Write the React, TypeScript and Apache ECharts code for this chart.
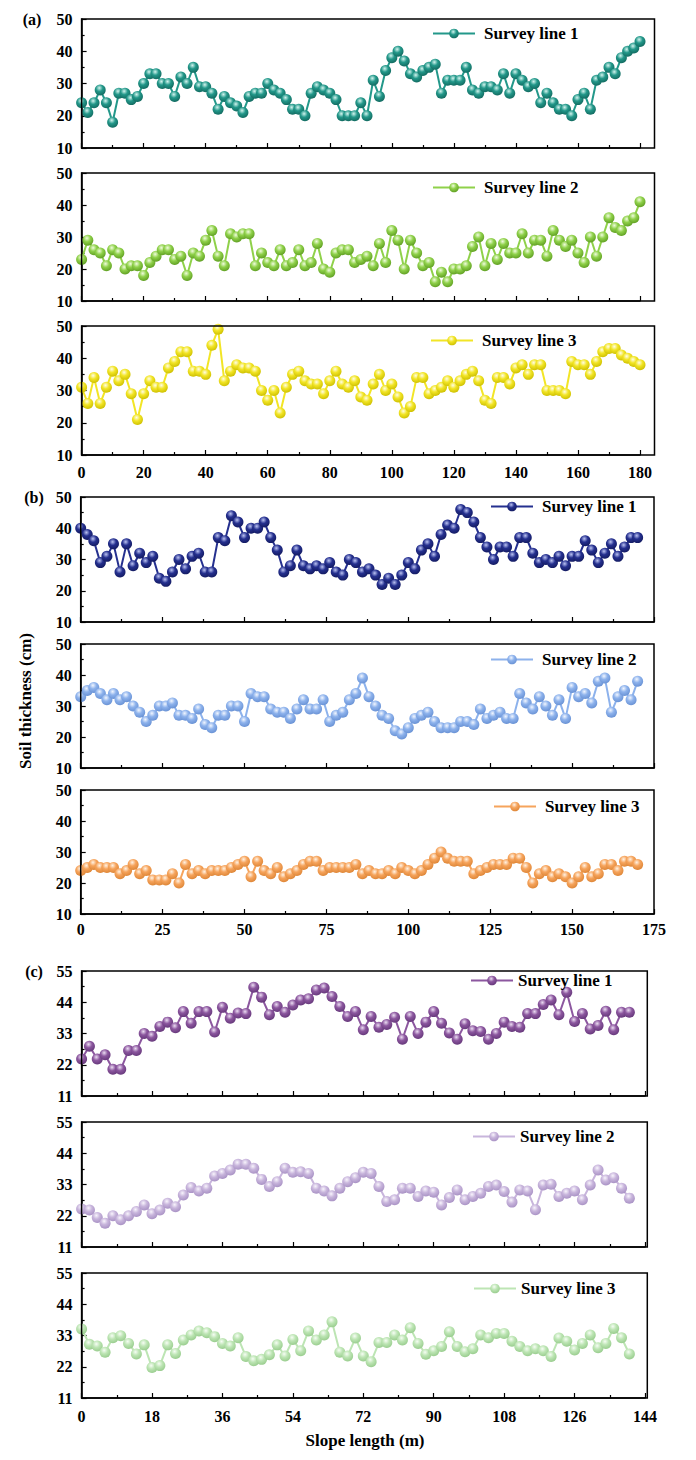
import React, { useEffect, useRef } from "react";
import * as echarts from "echarts";

// Sampling step along the slope (m)
const STEP = 2;

// (a) 0–180 m
const a1 = [24,21,24,28,24,18,27,27,25,26,30,33,33,30,30,26,32,30,35,29,29,27,22,26,24,23,21,26,27,27,30,28,27,25,22,22,20,27,29,28,27,25,20,20,20,24,20,31,26,34,38,40,37,33,32,34,35,36,27,31,31,31,35,28,27,29,29,28,33,27,33,31,29,30,24,27,24,22,22,20,25,27,22,31,32,35,33,38,40,41,43];
const a2 = [23,29,26,25,21,26,25,20,21,21,18,22,24,26,26,23,24,18,25,24,29,32,24,21,31,30,31,31,21,25,22,21,26,21,22,26,21,22,28,20,19,25,26,26,22,23,24,21,28,22,32,29,20,29,25,21,22,16,19,16,20,20,21,27,30,21,28,23,28,25,25,31,25,29,29,24,32,29,27,29,25,22,30,24,30,36,33,32,35,36,41];
const a3 = [31,26,34,26,31,36,33,35,29,21,29,33,31,31,37,39,42,42,36,36,35,44,49,33,36,38,37,37,36,30,27,30,23,31,35,36,33,32,32,29,33,36,32,31,33,28,27,32,35,30,32,28,23,25,34,34,29,30,31,33,31,33,35,36,33,27,26,34,34,32,37,38,35,38,38,30,30,30,29,39,38,38,35,39,42,43,43,41,40,39,38];

// (b) 0–170 m
const b1 = [40,38,36,29,31,35,26,35,28,32,29,31,24,23,26,30,27,31,32,26,26,37,36,44,42,37,40,40,42,37,33,26,28,33,28,27,28,27,29,26,25,30,29,26,27,25,22,24,22,25,29,27,33,35,31,38,41,40,46,45,42,37,34,30,34,34,31,37,37,32,29,30,29,31,28,31,31,36,33,29,32,35,31,34,37,37];
const b2 = [33,35,36,34,32,34,32,33,30,28,25,27,30,30,31,27,27,26,29,24,23,27,27,30,30,25,34,33,33,29,28,28,26,29,32,29,29,32,25,27,28,32,34,39,33,30,27,26,22,21,23,26,27,28,25,23,23,23,25,25,24,29,26,27,28,26,26,34,31,29,33,30,27,32,26,36,33,34,31,38,39,28,33,35,32,38];
const b3 = [24,25,26,25,25,25,23,24,26,23,24,21,21,21,23,20,26,23,24,23,24,24,24,25,26,27,22,27,24,23,25,22,23,24,26,27,27,24,25,25,25,25,26,23,24,23,23,24,23,25,24,23,24,26,28,30,28,27,27,27,23,24,25,26,26,26,28,28,25,20,23,24,22,23,22,20,22,25,22,23,26,26,24,27,27,26];

// (c) 0–140 m
const c1 = [24,28.5,24,25.5,20.4,20.4,27,27,33,32,35.5,37,35,40.7,36.6,40.7,40.7,33.5,42.2,38.4,40.2,40,49.3,45.8,39.6,42.5,40.5,43,44.8,45.2,48.3,49,46,42.5,39,40.7,34.3,39,35.2,36.2,38.7,31,39,33,37,40.7,36.6,33.2,31,36.4,34,33.7,31,33,37,35.5,35.2,40,40,43.2,44.8,39.6,47.5,37.2,40,34.6,35.8,40.8,34.3,40.5,40.5];
const c2 = [24.4,24,21.4,19.4,22,20.6,22,23.5,25.8,22.7,24,26.4,25.2,29.3,31.9,30.7,31.7,36,36.9,38.1,40.1,40.1,38.7,34.8,32.3,34,38.7,37.3,37.5,36.9,31.7,30.7,29,31.7,34,35.4,37.3,36.9,32.3,27,27.6,31.7,31.7,28.8,30.7,30.3,25.8,28.4,31.1,27.6,28.8,29.9,32.3,32.8,30.5,26.8,31.1,30.7,24.1,32.8,33.1,28.8,29.9,30.7,27.6,32.8,38.1,34.6,35.4,31.7,28.2];
const c3 = [35.3,29.9,29.3,27.1,32.2,32.9,30.2,26.5,29.7,21.7,22.4,29.7,26.7,31.4,33.2,34.6,34,32.6,30.2,29.3,32.2,25.6,24.1,24.6,26.2,29.7,25.8,31.6,27.6,34.6,31.4,33.2,37.8,27.1,25.8,32.1,25.8,23.8,30.5,30.5,33.2,31.4,35.7,30.2,26.4,27.6,29.1,34.3,29.1,27.3,28.3,33.2,32.2,33.7,33.7,31,29.1,27.6,28.3,27.6,25.6,32.1,31,27.9,30.2,33.2,28.7,30.2,35.5,32.2,26.5];

const legendNames = ["Survey line 1", "Survey line 2", "Survey line 3"];

const xTicksA = { min: 0, max: 180, interval: 20 };
const xTicksB = { min: 0, max: 175, interval: 25 };
const xTicksC = { min: 0, max: 144, interval: 18 };
const yTicksAB = { min: 10, max: 50, interval: 10 };
const yTicksC = { min: 11, max: 55, interval: 11 };

const FONT = "'Liberation Serif', 'Times New Roman', serif";

type Group = {
  left: number;
  width: number;
  frameRight: number;
  xt: { min: number; max: number; interval: number };
  yt: { min: number; max: number; interval: number };
  xLabelMargin: number;
  textPad: number;
};

const groups: Record<string, Group> = {
  a: { left: 81.6, width: 558.4, frameRight: 654.5, xt: xTicksA, yt: yTicksAB, xLabelMargin: 9, textPad: 4 },
  b: { left: 80.7, width: 573.3, frameRight: 654, xt: xTicksB, yt: yTicksAB, xLabelMargin: 7, textPad: 4 },
  c: { left: 81.6, width: 563.4, frameRight: 647.3, xt: xTicksC, yt: yTicksC, xLabelMargin: 10, textPad: 0 },
};

type Panel = {
  g: string;
  data: number[];
  legend: number;
  top: number;
  height: number;
  showX: boolean;
  lx: number;
  ly: number;
  base: string;
  light: string;
  dark: string;
};

const panels: Panel[] = [
  { g: "a", data: a1, legend: 0, top: 19, height: 129, showX: false, lx: 432, ly: 35, base: "#23988A", light: "#D2F4EE", dark: "#12695F" },
  { g: "a", data: a2, legend: 1, top: 173, height: 128, showX: false, lx: 432, ly: 189, base: "#8FD14A", light: "#F0FCDD", dark: "#5F9E22" },
  { g: "a", data: a3, legend: 2, top: 326, height: 129, showX: true, lx: 430, ly: 342, base: "#F2E526", light: "#FFFDE6", dark: "#CDBF00" },
  { g: "b", data: b1, legend: 0, top: 497, height: 125, showX: false, lx: 490, ly: 508, base: "#25308F", light: "#BAC2F2", dark: "#131A60" },
  { g: "b", data: b2, legend: 1, top: 644, height: 124, showX: false, lx: 490, ly: 661, base: "#8DB2EC", light: "#F1F6FF", dark: "#6891D4" },
  { g: "b", data: b3, legend: 2, top: 790, height: 124, showX: true, lx: 493, ly: 808, base: "#F6A45C", light: "#FFF2E4", dark: "#DD8536" },
  { g: "c", data: c1, legend: 0, top: 971, height: 125, showX: false, lx: 470, ly: 982, base: "#8C579F", light: "#EBDCF2", dark: "#65377A" },
  { g: "c", data: c2, legend: 1, top: 1122, height: 125, showX: false, lx: 472, ly: 1138, base: "#C8B5DC", light: "#F8F4FC", dark: "#A891C4" },
  { g: "c", data: c3, legend: 2, top: 1273, height: 125, showX: true, lx: 473, ly: 1290, base: "#BDE5B4", light: "#F6FDF4", dark: "#98CC8D" },
];

function buildOption() {
  const grid: any[] = [];
  const xAxis: any[] = [];
  const yAxis: any[] = [];
  const series: any[] = [];
  const legend: any[] = [];
  const graphic: any[] = [];

  panels.forEach((p, i) => {
    const g = groups[p.g];
    grid.push({ left: g.left, top: p.top, width: g.width, height: p.height, containLabel: false });
    const tickStyle = { color: "#000", width: 1.2 };
    xAxis.push({
      gridIndex: i,
      type: "value",
      min: g.xt.min,
      max: g.xt.max,
      interval: g.xt.interval,
      axisLine: { show: true, lineStyle: { color: "#000", width: 1.5 } },
      axisTick: { show: true, inside: true, length: 5, lineStyle: tickStyle },
      minorTick: { show: true, splitNumber: 2, length: 3, lineStyle: tickStyle },
      splitLine: { show: false },
      axisLabel: {
        show: p.showX,
        margin: g.xLabelMargin,
        color: "#000",
        fontFamily: FONT,
        fontWeight: "bold",
        fontSize: 16,
      },
    });
    yAxis.push({
      gridIndex: i,
      type: "value",
      min: g.yt.min,
      max: g.yt.max,
      interval: g.yt.interval,
      axisLine: { show: true, lineStyle: { color: "#000", width: 1.5 } },
      axisTick: { show: true, inside: true, length: 5, lineStyle: tickStyle },
      minorTick: { show: true, splitNumber: 2, length: 3, lineStyle: tickStyle },
      splitLine: { show: false },
      axisLabel: {
        margin: 9,
        color: "#000",
        fontFamily: FONT,
        fontWeight: "bold",
        fontSize: 16,
      },
    });
    const sname = `(${p.g}) ${legendNames[p.legend]}`;
    const grad = {
      type: "radial",
      x: 0.42,
      y: 0.32,
      r: 0.7,
      colorStops: [
        { offset: 0, color: p.light },
        { offset: 0.45, color: p.base },
        { offset: 1, color: p.dark },
      ],
    };
    series.push({
      name: sname,
      type: "line",
      xAxisIndex: i,
      yAxisIndex: i,
      data: p.data.map((v, k) => [k * STEP, v]),
      symbol: "circle",
      symbolSize: 11,
      showSymbol: true,
      lineStyle: { color: p.base, width: 2 },
      itemStyle: { color: grad, borderWidth: 0 },
      emphasis: { disabled: true },
    });
    legend.push({
      data: [sname],
      left: p.lx,
      top: p.ly - 10,
      padding: 0,
      itemWidth: 42,
      itemHeight: 12,
      selectedMode: false,
      formatter: () => legendNames[p.legend],
      textStyle: {
        color: "#000",
        fontFamily: FONT,
        fontWeight: "bold",
        fontSize: 17,
        padding: [0, 0, 0, g.textPad],
      },
    });
    graphic.push({
      type: "rect",
      silent: true,
      z: 100,
      shape: { x: g.left, y: p.top, width: g.frameRight - g.left, height: p.height },
      style: { fill: "none", stroke: "#000", lineWidth: 1.5 },
    });
  });

  const textStyle = (text: string, size: number) => ({
    text,
    fill: "#000",
    fontFamily: FONT,
    fontWeight: "bold",
    fontSize: size,
    align: "center",
    verticalAlign: "middle",
  });
  graphic.push({ type: "text", x: 32, y: 19, style: textStyle("(a)", 16) });
  graphic.push({ type: "text", x: 34, y: 497, style: textStyle("(b)", 16) });
  graphic.push({ type: "text", x: 34, y: 971, style: textStyle("(c)", 16) });
  graphic.push({ type: "text", x: 25, y: 701, rotation: Math.PI / 2, style: textStyle("Soil thickness (cm)", 17) });
  graphic.push({ type: "text", x: 365, y: 1440, style: textStyle("Slope length (m)", 17) });

  return {
    animation: false,
    backgroundColor: "#fff",
    grid,
    xAxis,
    yAxis,
    series,
    legend,
    graphic,
  };
}

export default function App() {
  const ref = useRef<HTMLDivElement>(null);
  useEffect(() => {
    document.body.style.margin = "0";
    if (!ref.current) return;
    const chart = echarts.init(ref.current, undefined, { renderer: "svg" });
    chart.setOption(buildOption() as any);
    return () => chart.dispose();
  }, []);
  return <div ref={ref} style={{ width: 696, height: 1460, background: "#fff" }} />;
}
